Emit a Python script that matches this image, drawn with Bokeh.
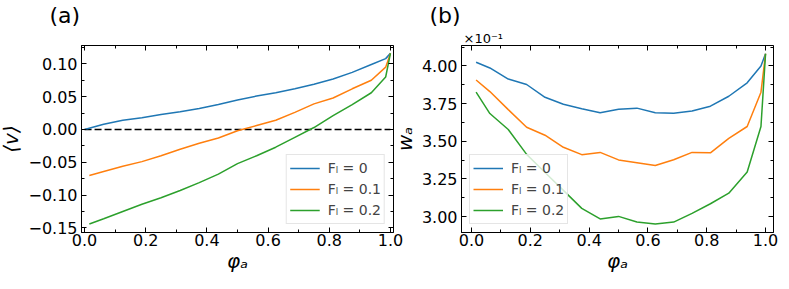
from bokeh.plotting import figure
from bokeh.layouts import row
from bokeh.models import (Range1d, SingleIntervalTicker, LinearAxis, CustomJSTickFormatter,
                          Legend, LegendItem, Title)
from bokeh.embed import file_html
from bokeh.resources import INLINE

# ---------------- data ----------------
phi = [0.015625, 0.0625, 0.125, 0.1875, 0.25, 0.3125, 0.375, 0.4375, 0.5,
       0.5625, 0.625, 0.6875, 0.75, 0.8125, 0.875, 0.9375, 0.984375, 1.0]
phi_F0_a = [0.0, 0.0625, 0.125, 0.1875, 0.25, 0.3125, 0.375, 0.4375, 0.5,
            0.5625, 0.625, 0.6875, 0.75, 0.8125, 0.875, 0.9375, 0.984375, 1.0]

v_F0 = [0.000, 0.008, 0.014, 0.018, 0.023, 0.027, 0.032, 0.038, 0.045,
        0.051, 0.056, 0.062, 0.069, 0.077, 0.087, 0.099, 0.108, 0.116]
v_F01 = [-0.070, -0.064, -0.056, -0.049, -0.040, -0.030, -0.021, -0.013, -0.002,
         0.006, 0.014, 0.026, 0.039, 0.048, 0.062, 0.075, 0.095, 0.116]
v_F02 = [-0.144, -0.136, -0.125, -0.114, -0.104, -0.093, -0.081, -0.068, -0.052,
         -0.040, -0.027, -0.012, 0.003, 0.021, 0.038, 0.056, 0.080, 0.116]

# w_a in units of 1e-1
w_F0 = [4.025, 3.987, 3.913, 3.877, 3.792, 3.746, 3.716, 3.690, 3.712,
        3.720, 3.690, 3.686, 3.701, 3.733, 3.799, 3.888, 4.000, 4.081]
w_F01 = [3.907, 3.830, 3.710, 3.593, 3.540, 3.460, 3.411, 3.426, 3.376,
         3.358, 3.339, 3.377, 3.426, 3.423, 3.519, 3.598, 3.826, 4.081]
w_F02 = [3.826, 3.684, 3.578, 3.413, 3.293, 3.174, 3.054, 2.984, 3.001,
         2.964, 2.950, 2.963, 3.021, 3.085, 3.155, 3.296, 3.598, 4.081]

zero_line_x = [0.0, 1.0]
zero_line_y = [0.0, 0.0]

labels = ["Fₗ = 0", "Fₗ = 0.1", "Fₗ = 0.2"]
colors = ["#1f77b4", "#ff7f0e", "#2ca02c"]

FONT = "DejaVu Sans"


def fmt(decimals):
    return CustomJSTickFormatter(code=f"""
        let s = tick.toFixed({decimals});
        if (Number(s) == 0) s = (0).toFixed({decimals});
        return s.replace('-', '\\u2212');
    """)


def blank():
    return CustomJSTickFormatter(code="return '';")


def style(p, xint, yint, ydec, xlabel, ylabel):
    p.xgrid.visible = False
    p.ygrid.visible = False
    p.outline_line_color = "black"
    p.outline_line_width = 1
    p.background_fill_color = "white"
    p.border_fill_alpha = 0
    bottom = p.below[0]
    left = p.left[0]
    xt = SingleIntervalTicker(interval=xint, num_minor_ticks=2)
    yt = SingleIntervalTicker(interval=yint, num_minor_ticks=2)
    bottom.ticker = xt
    left.ticker = yt
    bottom.formatter = fmt(1)
    left.formatter = fmt(ydec)
    top = LinearAxis(ticker=xt, formatter=blank(), fixed_location=p.y_range.end)
    right = LinearAxis(ticker=yt, formatter=blank(), fixed_location=p.x_range.end)
    p.add_layout(top, "above")
    p.add_layout(right, "right")
    for ax in [bottom, left, top, right]:
        ax.major_tick_in = 5
        ax.major_tick_out = 0
        ax.minor_tick_in = 3
        ax.minor_tick_out = 0
        ax.major_tick_line_color = "black"
        ax.minor_tick_line_color = "black"
        ax.axis_line_color = "black"
        ax.major_label_text_font = FONT
        ax.major_label_text_font_size = "16px"
        ax.major_label_text_color = "black"
        ax.major_label_text_line_height = 0.75
        ax.axis_label_text_font = FONT
        ax.axis_label_text_font_size = "20px"
        ax.axis_label_text_color = "black"
        ax.axis_label_text_line_height = 0.75
    for ax in [top, right]:
        ax.major_label_standoff = 0
        ax.major_label_text_font_size = "0px"
    bottom.major_label_standoff = 1
    left.major_label_standoff = 4
    bottom.axis_label = xlabel
    left.axis_label = ylabel
    bottom.axis_label_standoff = 0
    left.axis_label_standoff = 2


def legend(p, rs, loc):
    items = [LegendItem(label=l, renderers=[r]) for l, r in zip(labels, rs)]
    lg = Legend(items=items, location=loc, label_text_font=FONT, label_text_font_size="14px",
                glyph_width=30, glyph_height=20, label_height=20, spacing=1, padding=3,
                margin=8, label_standoff=8, border_line_color="#cccccc",
                border_line_width=1, background_fill_alpha=0.8)
    p.add_layout(lg)


def title(p, text, size, offset, standoff):
    p.add_layout(Title(text=text, align="left", offset=offset, standoff=standoff,
                       text_font=FONT, text_font_size=size, text_font_style="normal",
                       text_color="black"), "above")


# ---------------- panel (a) ----------------
p1 = figure(width=411, height=281, output_backend="svg", toolbar_location=None,
            x_range=Range1d(-0.01, 1.01), y_range=Range1d(-0.157, 0.128),
            min_border=0, min_border_left=78, min_border_right=14, min_border_top=37,
            min_border_bottom=49, margin=(0, 0, 0, -4))
style(p1, 0.2, 0.05, 2, "φₐ", "⟨v⟩")
p1.line(zero_line_x, zero_line_y, line_color="black", line_dash="7 3", line_width=1.5)
ra = [p1.line(phi_F0_a, v_F0, line_color=colors[0], line_width=1.5),
      p1.line(phi, v_F01, line_color=colors[1], line_width=1.5),
      p1.line(phi, v_F02, line_color=colors[2], line_width=1.5)]
legend(p1, ra, "bottom_right")
title(p1, "\u00a0", "13px", 2, 0)
title(p1, "(a)", "22px", -32, 1)

# ---------------- panel (b) ----------------
p2 = figure(width=392, height=281, output_backend="svg", toolbar_location=None,
            x_range=Range1d(-0.034, 1.027), y_range=Range1d(2.894, 4.136),
            min_border=0, min_border_left=66, min_border_right=8, min_border_top=37,
            min_border_bottom=49, margin=(0, 0, 0, -18))
style(p2, 0.2, 0.25, 2, "φₐ", "wₐ")
rb = [p2.line(phi, w_F0, line_color=colors[0], line_width=1.5),
      p2.line(phi, w_F01, line_color=colors[1], line_width=1.5),
      p2.line(phi, w_F02, line_color=colors[2], line_width=1.5)]
legend(p2, rb, "bottom_left")
title(p2, "×10⁻¹", "13px", 2, 0)
title(p2, "(b)", "22px", -32, 1)

layout = row(p1, p2, margin=(0, 0, -8, 0))
open("out.html", "w").write(file_html(layout, INLINE))
